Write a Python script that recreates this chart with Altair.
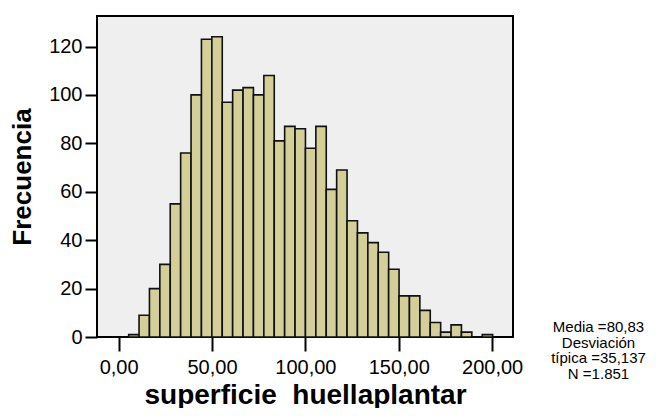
import altair as alt
import pandas as pd

# Histogram of "superficie huellaplantar" (35 bins)
counts = [1, 9, 20, 30, 55, 76, 100, 123, 124, 97,
          102, 103, 100, 108, 81, 87, 86, 78, 87, 61,
          69, 48, 43, 39, 35, 28, 17, 17, 11, 6,
          2, 5, 2, 0, 1]
bin_start = 5.35
bin_width = 5.57
x_ticks = [0, 50, 100, 150, 200]
y_ticks = [0, 20, 40, 60, 80, 100, 120]
stats_lines = ["Media =80,83", "Desviación", "típica =35,137", "N =1.851"]

df = pd.DataFrame({
    "lo": [bin_start + i * bin_width for i in range(len(counts))],
    "hi": [bin_start + (i + 1) * bin_width for i in range(len(counts))],
    "n": counts,
})

FONT = "Liberation Sans"

x_scale = alt.Scale(domain=[-11.6, 211.2], nice=False, zero=False)
y_scale = alt.Scale(domain=[0, 132.6], nice=False)

bars = alt.Chart(df).mark_rect(
    fill="#D4CF99", stroke="#111111", strokeWidth=1.6
).encode(
    x=alt.X("lo:Q", scale=x_scale, title="superficie\u00a0 huellaplantar",
            axis=alt.Axis(values=x_ticks, labelExpr="replace(format(datum.value, '.2f'), '.', ',')",
                          tickSize=14, labelPadding=6, titlePadding=4)),
    x2="hi:Q",
    y=alt.Y("n:Q", scale=y_scale, title="Frecuencia",
            axis=alt.Axis(values=y_ticks, tickSize=12, labelPadding=3, titlePadding=13)),
    y2=alt.datum(0),
)

stats = alt.Chart(pd.DataFrame({"t": [stats_lines]})).mark_text(
    font=FONT, fontSize=15, lineHeight=15.5, align="center", baseline="middle", color="#000000"
).encode(
    x=alt.value(501.5), y=alt.value(311), text="t"
)

chart = alt.layer(bars, stats).properties(
    width=416, height=321,
    autosize=alt.AutoSizeParams(type="none"),
    padding={"left": 89, "top": 8, "right": 141, "bottom": 71},
).configure_view(
    stroke="#000000", strokeWidth=2, fill="#EFEFEF"
).configure_axis(
    domain=False, grid=False, tickColor="#000000", tickWidth=2,
    labelFont=FONT, labelFontSize=20, labelColor="#000000",
    titleFont=FONT, titleFontSize=26, titleFontWeight="bold", titleColor="#000000",
).configure_axisX(titleFontSize=28)

chart.save("out.html", embed_options={"renderer": "svg", "actions": False})
